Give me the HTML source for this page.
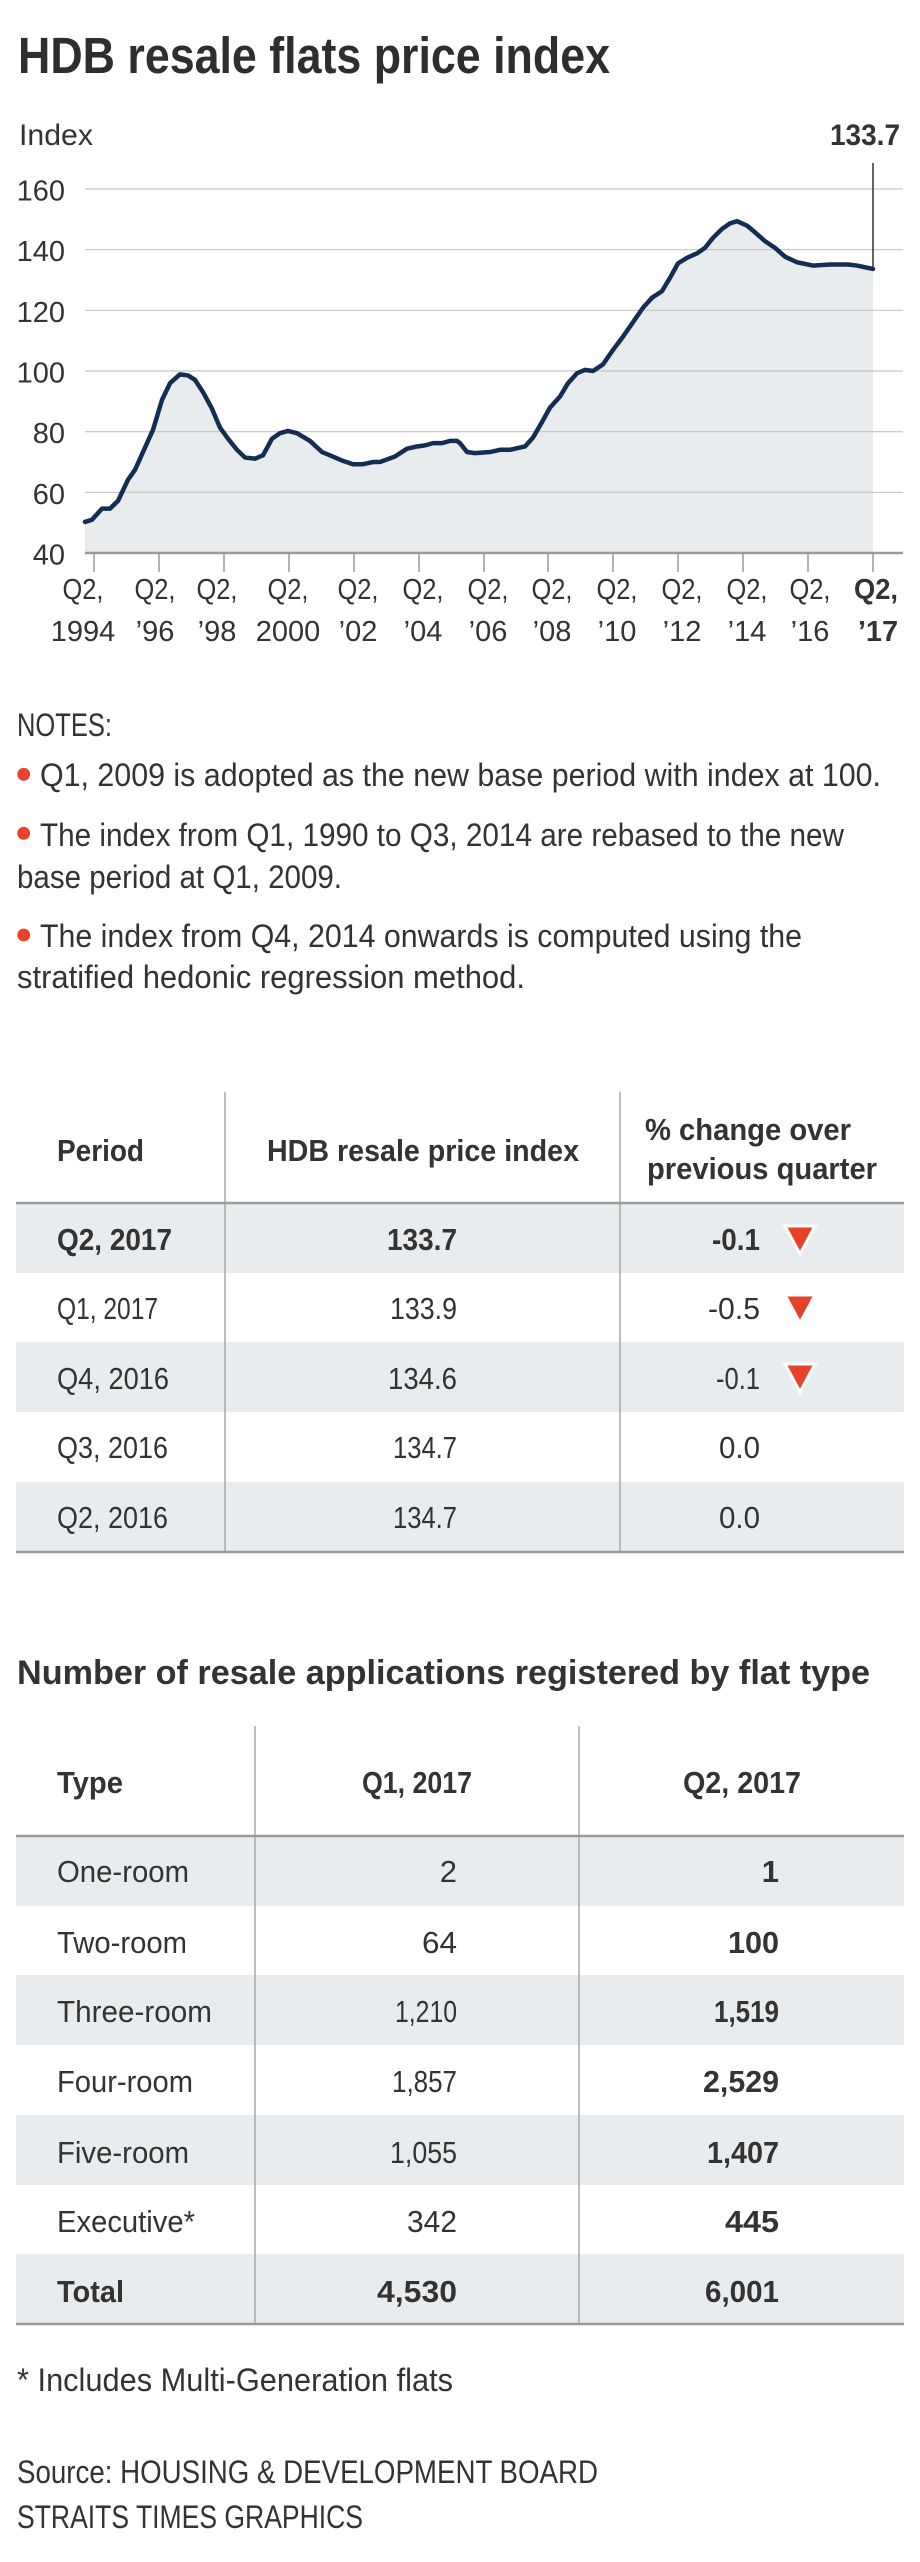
<!DOCTYPE html>
<html>
<head>
<meta charset="utf-8">
<style>
  html,body{margin:0;padding:0;background:#fff;}
  svg{display:block;}
  text{font-family:"Liberation Sans","DejaVu Sans",sans-serif;fill:#333;}
  .b{font-weight:bold;}
</style>
</head>
<body>
<svg width="920" height="2562" viewBox="0 0 920 2562" xmlns="http://www.w3.org/2000/svg">
  <rect x="0" y="0" width="920" height="2562" fill="#fff"/>

  <!-- Title -->
  <text class="b" x="18" y="73" font-size="51" textLength="592" lengthAdjust="spacingAndGlyphs" style="fill:#2e2e2e">HDB resale flats price index</text>

  <!-- Chart header labels -->
  <text x="19" y="145" font-size="30" textLength="74" lengthAdjust="spacingAndGlyphs">Index</text>
  <text class="b" x="830" y="145" font-size="30" textLength="70" lengthAdjust="spacingAndGlyphs">133.7</text>

  <!-- Fill area (scaled vertically) -->
  <g transform="translate(0,189) scale(1,1.1098) translate(0,-180)">
  <polygon fill="#e9ecee" points="85,480 92,478 102,468 110,468 118,461 128,442 135,433 143,417 153,397 162,370 170,355 180,347 188,348 195,352 203,363 212,378 220,395 228,405 237,415 245,422 255,423 263,420 272,405 280,400 288,398 297,400 310,407 322,417 330,420 343,425 353,428 363,428 373,426 380,426 395,421 407,414 417,412 425,411 433,409 442,409 450,407 457,407 460,409 467,417 475,418 490,417 500,415 510,415 525,412 533,404 542,390 550,377 560,367 568,355 577,346 585,343 593,344 603,338 613,325 623,313 633,300 643,287 652,278 662,272 670,260 678,247 687,242 697,238 705,233 713,224 722,216 730,211 737,209 747,213 755,219 765,227 775,233 785,241 797,246 813,249 830,248 848,248 857,249 873,252 873,508 85,508"/>
  </g>

  <!-- Gridlines -->
  <g stroke="#c4c4c4" stroke-width="1.2">
    <line x1="85" y1="189" x2="903" y2="189"/>
    <line x1="85" y1="249.7" x2="903" y2="249.7"/>
    <line x1="85" y1="310.3" x2="903" y2="310.3"/>
    <line x1="85" y1="371" x2="903" y2="371"/>
    <line x1="85" y1="431.7" x2="903" y2="431.7"/>
    <line x1="85" y1="492.3" x2="903" y2="492.3"/>
  </g>
  <line x1="85" y1="553" x2="903" y2="553" stroke="#9a9a9a" stroke-width="2.5"/>

  <!-- Y labels -->
  <g font-size="29" text-anchor="end">
    <text x="65" y="200.5">160</text>
    <text x="65" y="261.2">140</text>
    <text x="65" y="321.8">120</text>
    <text x="65" y="382.5">100</text>
    <text x="65" y="443.2">80</text>
    <text x="65" y="503.8">60</text>
    <text x="65" y="564.5">40</text>
  </g>

  <!-- Ticks -->
  <g stroke="#9a9a9a" stroke-width="1.5">
    <line x1="94" y1="554" x2="94" y2="572"/>
    <line x1="159" y1="554" x2="159" y2="572"/>
    <line x1="224" y1="554" x2="224" y2="572"/>
    <line x1="289" y1="554" x2="289" y2="572"/>
    <line x1="354" y1="554" x2="354" y2="572"/>
    <line x1="419" y1="554" x2="419" y2="572"/>
    <line x1="484" y1="554" x2="484" y2="572"/>
    <line x1="548" y1="554" x2="548" y2="572"/>
    <line x1="613" y1="554" x2="613" y2="572"/>
    <line x1="678" y1="554" x2="678" y2="572"/>
    <line x1="743" y1="554" x2="743" y2="572"/>
    <line x1="808" y1="554" x2="808" y2="572"/>
    <line x1="873" y1="554" x2="873" y2="572"/>
  </g>

  <!-- X labels -->
  <g font-size="29" text-anchor="middle">
    <text x="83" y="599" textLength="41" lengthAdjust="spacingAndGlyphs">Q2,</text><text x="83" y="641">1994</text>
    <text x="155" y="599" textLength="41" lengthAdjust="spacingAndGlyphs">Q2,</text><text x="155" y="641">’96</text>
    <text x="217" y="599" textLength="41" lengthAdjust="spacingAndGlyphs">Q2,</text><text x="217" y="641">’98</text>
    <text x="288" y="599" textLength="41" lengthAdjust="spacingAndGlyphs">Q2,</text><text x="288" y="641">2000</text>
    <text x="358" y="599" textLength="41" lengthAdjust="spacingAndGlyphs">Q2,</text><text x="358" y="641">’02</text>
    <text x="423" y="599" textLength="41" lengthAdjust="spacingAndGlyphs">Q2,</text><text x="423" y="641">’04</text>
    <text x="488" y="599" textLength="41" lengthAdjust="spacingAndGlyphs">Q2,</text><text x="488" y="641">’06</text>
    <text x="552" y="599" textLength="41" lengthAdjust="spacingAndGlyphs">Q2,</text><text x="552" y="641">’08</text>
    <text x="617" y="599" textLength="41" lengthAdjust="spacingAndGlyphs">Q2,</text><text x="617" y="641">’10</text>
    <text x="682" y="599" textLength="41" lengthAdjust="spacingAndGlyphs">Q2,</text><text x="682" y="641">’12</text>
    <text x="747" y="599" textLength="41" lengthAdjust="spacingAndGlyphs">Q2,</text><text x="747" y="641">’14</text>
    <text x="810" y="599" textLength="41" lengthAdjust="spacingAndGlyphs">Q2,</text><text x="810" y="641">’16</text>
    <text class="b" x="876" y="599" textLength="44" lengthAdjust="spacingAndGlyphs">Q2,</text><text class="b" x="878" y="641">’17</text>
  </g>

  <!-- Marker line -->
  <line x1="873" y1="163" x2="873" y2="268" stroke="#333" stroke-width="1.5"/>

  <!-- Series line (scaled vertically) -->
  <g transform="translate(0,189) scale(1,1.1098) translate(0,-180)">
  <polyline fill="none" stroke="#132d54" stroke-width="4.5" vector-effect="non-scaling-stroke" stroke-linejoin="round" stroke-linecap="round" points="85,480 92,478 102,468 110,468 118,461 128,442 135,433 143,417 153,397 162,370 170,355 180,347 188,348 195,352 203,363 212,378 220,395 228,405 237,415 245,422 255,423 263,420 272,405 280,400 288,398 297,400 310,407 322,417 330,420 343,425 353,428 363,428 373,426 380,426 395,421 407,414 417,412 425,411 433,409 442,409 450,407 457,407 460,409 467,417 475,418 490,417 500,415 510,415 525,412 533,404 542,390 550,377 560,367 568,355 577,346 585,343 593,344 603,338 613,325 623,313 633,300 643,287 652,278 662,272 670,260 678,247 687,242 697,238 705,233 713,224 722,216 730,211 737,209 747,213 755,219 765,227 775,233 785,241 797,246 813,249 830,248 848,248 857,249 873,252"/>
  </g>

  <!-- Notes -->
  <text x="17" y="736" font-size="32" textLength="95" lengthAdjust="spacingAndGlyphs">NOTES:</text>
  <circle cx="23.7" cy="774.3" r="6.4" fill="#e8432a"/>
  <circle cx="23.7" cy="833.3" r="6.4" fill="#e8432a"/>
  <circle cx="23.7" cy="935" r="6.4" fill="#e8432a"/>
  <text x="40" y="786" font-size="32" textLength="841" lengthAdjust="spacingAndGlyphs">Q1, 2009 is adopted as the new base period with index at 100.</text>
  <text x="40" y="846" font-size="32" textLength="804" lengthAdjust="spacingAndGlyphs">The index from Q1, 1990 to Q3, 2014 are rebased to the new</text>
  <text x="17" y="888" font-size="32" textLength="325" lengthAdjust="spacingAndGlyphs">base period at Q1, 2009.</text>
  <text x="40" y="947" font-size="32" textLength="762" lengthAdjust="spacingAndGlyphs">The index from Q4, 2014 onwards is computed using the</text>
  <text x="17" y="988" font-size="32" textLength="508" lengthAdjust="spacingAndGlyphs">stratified hedonic regression method.</text>

  <!-- Table 1 -->
  <g fill="#e9ecee">
    <rect x="16" y="1204" width="888" height="69"/>
    <rect x="16" y="1342" width="888" height="70"/>
    <rect x="16" y="1482" width="888" height="70"/>
  </g>
  <g stroke="#a8a8a8" stroke-width="1.5">
    <line x1="225" y1="1092" x2="225" y2="1552"/>
    <line x1="620" y1="1092" x2="620" y2="1552"/>
  </g>
  <line x1="16" y1="1203" x2="904" y2="1203" stroke="#999" stroke-width="2.5"/>
  <line x1="16" y1="1552" x2="904" y2="1552" stroke="#999" stroke-width="2.5"/>

  <text class="b" x="57" y="1161" font-size="31" textLength="87" lengthAdjust="spacingAndGlyphs">Period</text>
  <text class="b" x="267" y="1161" font-size="31" textLength="312" lengthAdjust="spacingAndGlyphs">HDB resale price index</text>
  <text class="b" x="645" y="1140" font-size="31" textLength="206" lengthAdjust="spacingAndGlyphs">% change over</text>
  <text class="b" x="647" y="1179" font-size="31" textLength="230" lengthAdjust="spacingAndGlyphs">previous quarter</text>

  <text class="b" x="57" y="1250" font-size="31" textLength="115" lengthAdjust="spacingAndGlyphs">Q2, 2017</text>
  <text class="b" x="387" y="1250" font-size="31" textLength="70" lengthAdjust="spacingAndGlyphs">133.7</text>
  <text class="b" x="712" y="1250" font-size="31" textLength="48" lengthAdjust="spacingAndGlyphs">-0.1</text>

  <text x="57" y="1319" font-size="31" textLength="101" lengthAdjust="spacingAndGlyphs">Q1, 2017</text>
  <text x="390" y="1319" font-size="31" textLength="67" lengthAdjust="spacingAndGlyphs">133.9</text>
  <text x="708" y="1319" font-size="31" textLength="52" lengthAdjust="spacingAndGlyphs">-0.5</text>

  <text x="57" y="1389" font-size="31" textLength="112" lengthAdjust="spacingAndGlyphs">Q4, 2016</text>
  <text x="388" y="1389" font-size="31" textLength="69" lengthAdjust="spacingAndGlyphs">134.6</text>
  <text x="716" y="1389" font-size="31" textLength="44" lengthAdjust="spacingAndGlyphs">-0.1</text>

  <text x="57" y="1458" font-size="31" textLength="111" lengthAdjust="spacingAndGlyphs">Q3, 2016</text>
  <text x="393" y="1458" font-size="31" textLength="64" lengthAdjust="spacingAndGlyphs">134.7</text>
  <text x="719" y="1458" font-size="31" textLength="41" lengthAdjust="spacingAndGlyphs">0.0</text>

  <text x="57" y="1528" font-size="31" textLength="111" lengthAdjust="spacingAndGlyphs">Q2, 2016</text>
  <text x="393" y="1528" font-size="31" textLength="64" lengthAdjust="spacingAndGlyphs">134.7</text>
  <text x="719" y="1528" font-size="31" textLength="41" lengthAdjust="spacingAndGlyphs">0.0</text>

  <!-- Triangles -->
  <g fill="#e8412a" stroke="#fff" stroke-width="3" stroke-linejoin="miter">
    <polygon points="785,1226 815,1226 800,1254"/>
    <polygon points="785,1295 815,1295 800,1323"/>
    <polygon points="785,1364 815,1364 800,1392"/>
  </g>

  <!-- Table 2 title -->
  <text class="b" x="17" y="1684" font-size="34" textLength="853" lengthAdjust="spacingAndGlyphs">Number of resale applications registered by flat type</text>

  <!-- Table 2 -->
  <g fill="#e9ecee">
    <rect x="16" y="1837" width="888" height="69"/>
    <rect x="16" y="1975" width="888" height="70"/>
    <rect x="16" y="2115" width="888" height="70"/>
    <rect x="16" y="2254" width="888" height="70"/>
  </g>
  <g stroke="#a8a8a8" stroke-width="1.5">
    <line x1="255" y1="1726" x2="255" y2="2324"/>
    <line x1="579" y1="1726" x2="579" y2="2324"/>
  </g>
  <line x1="16" y1="1836" x2="904" y2="1836" stroke="#999" stroke-width="2.5"/>
  <line x1="16" y1="2324" x2="904" y2="2324" stroke="#999" stroke-width="2.5"/>

  <text class="b" x="57" y="1793" font-size="31" textLength="66" lengthAdjust="spacingAndGlyphs">Type</text>
  <text class="b" x="362" y="1793" font-size="31" textLength="110" lengthAdjust="spacingAndGlyphs">Q1, 2017</text>
  <text class="b" x="683" y="1793" font-size="31" textLength="118" lengthAdjust="spacingAndGlyphs">Q2, 2017</text>

  <text x="57" y="1882" font-size="31" textLength="132" lengthAdjust="spacingAndGlyphs">One-room</text>
  <text x="457" y="1882" font-size="31" text-anchor="end">2</text>
  <text class="b" x="779" y="1882" font-size="31" text-anchor="end">1</text>

  <text x="57" y="1953" font-size="31" textLength="130" lengthAdjust="spacingAndGlyphs">Two-room</text>
  <text x="422" y="1953" font-size="31" textLength="35" lengthAdjust="spacingAndGlyphs">64</text>
  <text class="b" x="728" y="1953" font-size="31" textLength="51" lengthAdjust="spacingAndGlyphs">100</text>

  <text x="57" y="2022" font-size="31" textLength="155" lengthAdjust="spacingAndGlyphs">Three-room</text>
  <text x="395" y="2022" font-size="31" textLength="62" lengthAdjust="spacingAndGlyphs">1,210</text>
  <text class="b" x="714" y="2022" font-size="31" textLength="65" lengthAdjust="spacingAndGlyphs">1,519</text>

  <text x="57" y="2092" font-size="31" textLength="136" lengthAdjust="spacingAndGlyphs">Four-room</text>
  <text x="392" y="2092" font-size="31" textLength="65" lengthAdjust="spacingAndGlyphs">1,857</text>
  <text class="b" x="703" y="2092" font-size="31" textLength="76" lengthAdjust="spacingAndGlyphs">2,529</text>

  <text x="57" y="2163" font-size="31" textLength="132" lengthAdjust="spacingAndGlyphs">Five-room</text>
  <text x="390" y="2163" font-size="31" textLength="67" lengthAdjust="spacingAndGlyphs">1,055</text>
  <text class="b" x="707" y="2163" font-size="31" textLength="72" lengthAdjust="spacingAndGlyphs">1,407</text>

  <text x="57" y="2232" font-size="31" textLength="138" lengthAdjust="spacingAndGlyphs">Executive*</text>
  <text x="407" y="2232" font-size="31" textLength="50" lengthAdjust="spacingAndGlyphs">342</text>
  <text class="b" x="725" y="2232" font-size="31" textLength="54" lengthAdjust="spacingAndGlyphs">445</text>

  <text class="b" x="57" y="2302" font-size="31" textLength="67" lengthAdjust="spacingAndGlyphs">Total</text>
  <text class="b" x="377" y="2302" font-size="31" textLength="80" lengthAdjust="spacingAndGlyphs">4,530</text>
  <text class="b" x="705" y="2302" font-size="31" textLength="74" lengthAdjust="spacingAndGlyphs">6,001</text>

  <!-- Footer -->
  <text x="17" y="2391" font-size="32" textLength="436" lengthAdjust="spacingAndGlyphs">* Includes Multi-Generation flats</text>
  <text x="17" y="2483" font-size="32" textLength="581" lengthAdjust="spacingAndGlyphs">Source: HOUSING &amp; DEVELOPMENT BOARD</text>
  <text x="17" y="2528" font-size="32" textLength="346" lengthAdjust="spacingAndGlyphs">STRAITS TIMES GRAPHICS</text>
</svg>
</body>
</html>
